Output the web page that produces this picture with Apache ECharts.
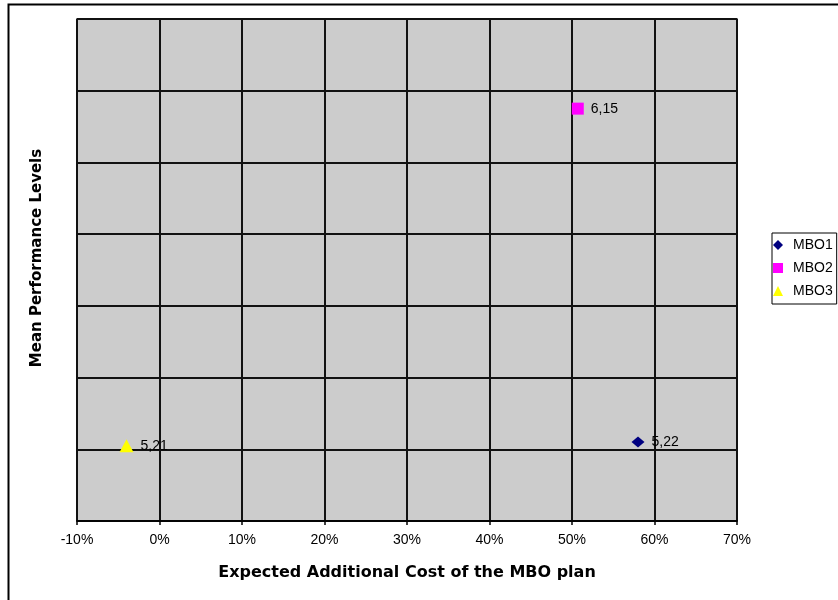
<!DOCTYPE html>
<html>
<head>
<meta charset="utf-8">
<script src="https://cdn.jsdelivr.net/npm/echarts@6/dist/echarts.min.js"></script>
<style>
  html, body { margin: 0; padding: 0; background: #fff; }
  #chart { width: 838px; height: 600px; }
</style>
</head>
<body>
<div id="chart"></div>
<script>
// Series names and their (cost %, mean performance) points
const seriesNames = ['MBO1', 'MBO2', 'MBO3'];
const costValues = [58, 50.7, -4];
const performanceValues = [5.22, 6.15, 5.21];
const seriesColors = ['#000080', '#ff00ff', '#ffff00'];
const seriesSymbols = ['diamond', 'rect', 'triangle'];
const seriesSymbolSizes = [[13, 11], [12, 12], [14, 13]];

// X axis ticks (percent) and hidden Y axis range
const xTicks = [-10, 0, 10, 20, 30, 40, 50, 60, 70];
const yMin = 5.0, yMax = 6.4, yStep = 0.2;

const xTitle = 'Expected Additional Cost of the MBO plan';
const yTitle = 'Mean Performance Levels';

const fontFamily = '"Liberation Sans", "DejaVu Sans", sans-serif';
const titleFont = '"DejaVu Sans", "Liberation Sans", sans-serif';

const chart = echarts.init(document.getElementById('chart'), null, { renderer: 'canvas' });

const series = seriesNames.map((name, i) => ({
  name: name,
  type: 'scatter',
  data: [[costValues[i], performanceValues[i]]],
  symbol: seriesSymbols[i],
  symbolSize: seriesSymbolSizes[i],
  itemStyle: { color: seriesColors[i], opacity: 1 },
  label: {
    show: true,
    position: 'right',
    distance: 7,
    color: '#000',
    fontFamily: fontFamily,
    fontSize: 14,
    formatter: p => p.value[1].toFixed(2).replace('.', ',')
  },
  emphasis: { disabled: true }
}));

chart.setOption({
  animation: false,
  backgroundColor: '#ffffff',
  graphic: [
    {
      // outer chart frame (runs past the right and bottom edges)
      type: 'rect',
      shape: { x: 8.5, y: 4.5, width: 860, height: 620 },
      style: { fill: 'none', stroke: '#000', lineWidth: 2 },
      z: -10
    },
    {
      type: 'text',
      x: 37,
      y: 258,
      rotation: Math.PI / 2,
      style: {
        text: yTitle,
        fontFamily: titleFont,
        fontSize: 15,
        fontWeight: 'bold',
        fill: '#000',
        align: 'center',
        verticalAlign: 'middle'
      }
    }
  ],
  grid: {
    left: 77, right: 101, top: 19, bottom: 79,
    show: true,
    backgroundColor: '#cccccc',
    borderColor: '#8c8c8c',
    borderWidth: 2
  },
  legend: {
    orient: 'vertical',
    left: 772,
    top: 233,
    itemWidth: 10,
    itemHeight: 10,
    itemGap: 9,
    padding: [5, 4, 6, 1],
    borderColor: '#000',
    borderWidth: 1,
    backgroundColor: '#fff',
    textStyle: { fontFamily: fontFamily, fontSize: 14, color: '#000', padding: [0, 0, 0, 5] },
    data: seriesNames.map(n => ({ name: n }))
  },
  xAxis: {
    type: 'value',
    min: xTicks[0],
    max: xTicks[xTicks.length - 1],
    interval: 10,
    name: xTitle,
    nameLocation: 'middle',
    nameGap: 44,
    nameTextStyle: { fontFamily: titleFont, fontSize: 16, fontWeight: 'bold', color: '#000' },
    axisLine: { show: true, onZero: false, lineStyle: { color: '#000', width: 1.5 } },
    axisTick: { show: true, length: 4, lineStyle: { color: '#000', width: 1.5 } },
    axisLabel: {
      fontFamily: fontFamily, fontSize: 14, color: '#000', margin: 12,
      formatter: v => v + '%'
    },
    splitLine: { show: true, lineStyle: { color: '#111', width: 2 } }
  },
  yAxis: {
    type: 'value',
    min: yMin,
    max: yMax,
    interval: yStep,
    axisLine: { show: false },
    axisTick: { show: false },
    axisLabel: { show: false },
    splitLine: { show: true, lineStyle: { color: '#111', width: 2 } }
  },
  series: series
});
</script>
</body>
</html>
